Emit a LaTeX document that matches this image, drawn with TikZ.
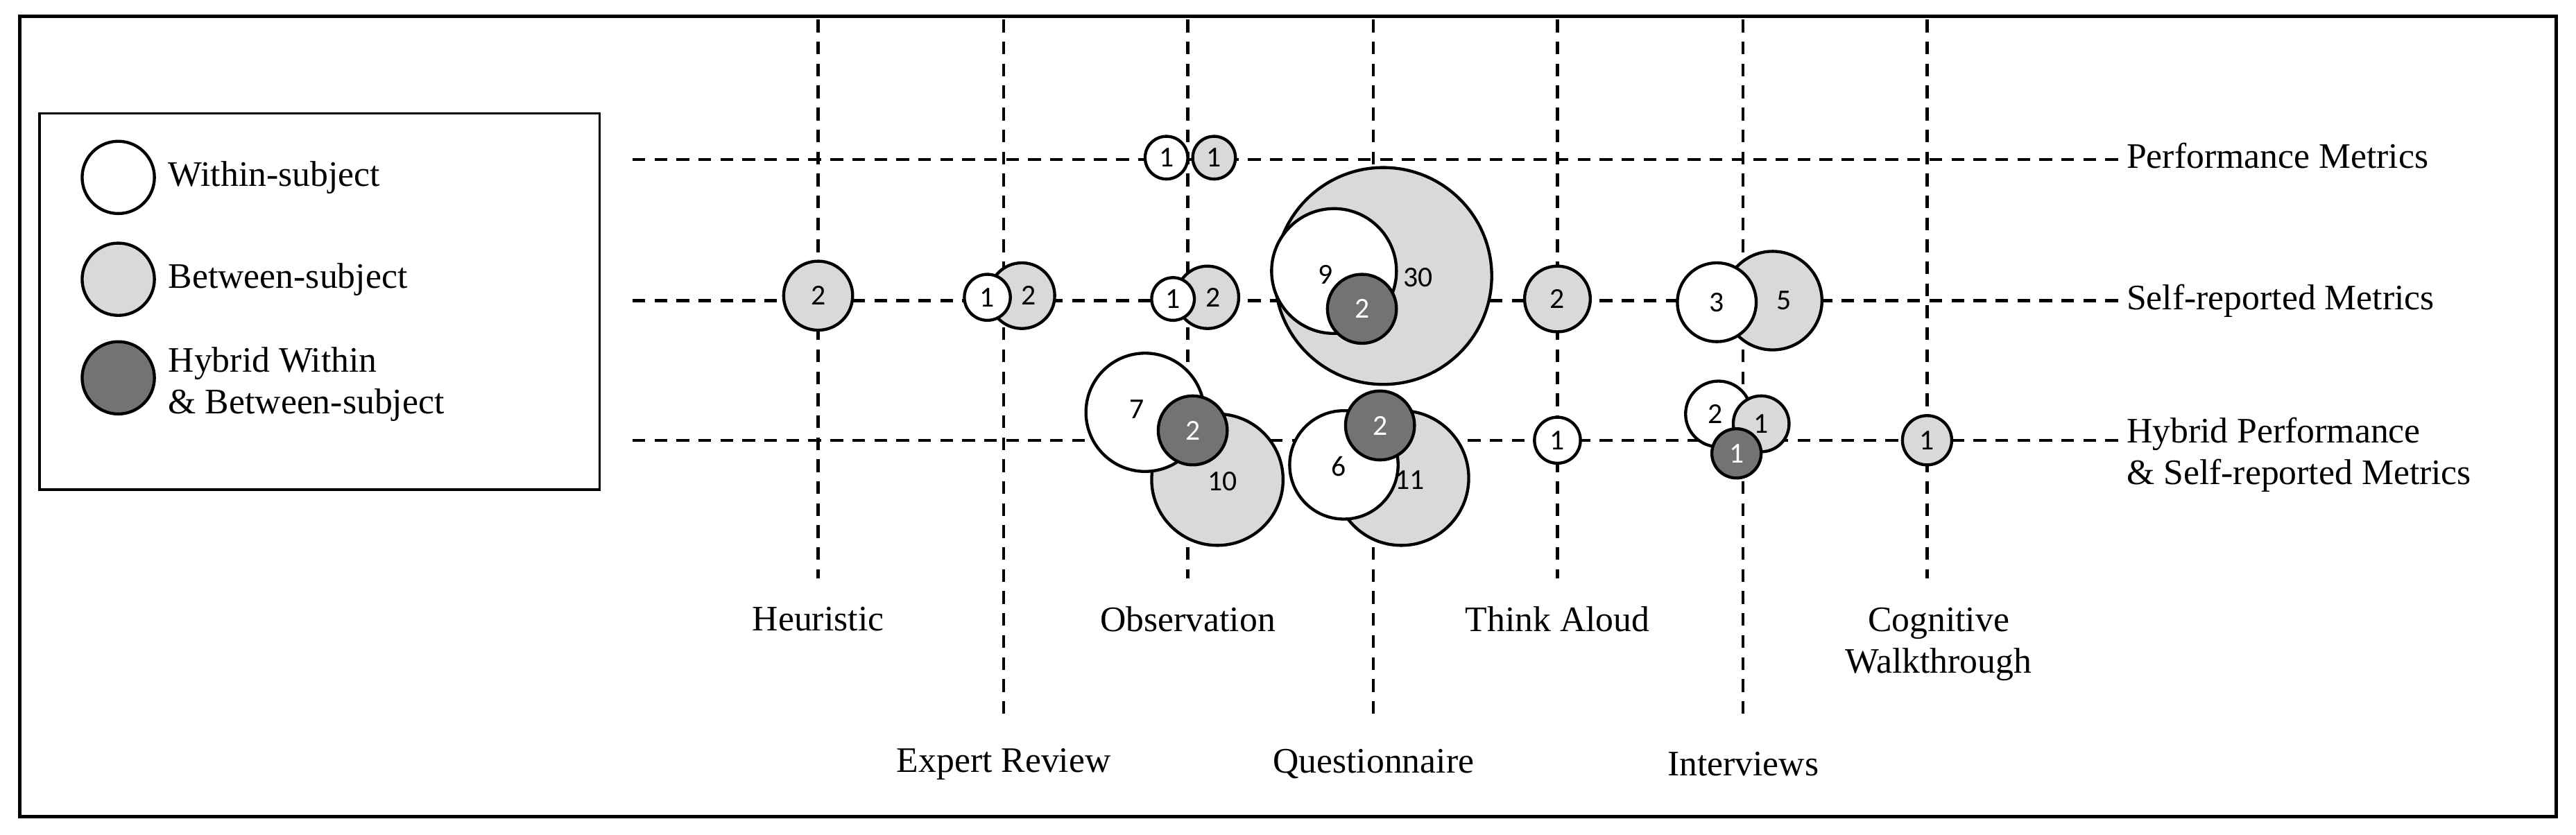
\documentclass[tikz,border=0pt]{standalone}
\usepackage{fontspec}
\setmainfont{Liberation Serif}
\newfontfamily\numf{Carlito}
\begin{document}
\begin{tikzpicture}[x=1.42pt,y=-1.42pt,
 grid/.style={line width=2.6pt,dash pattern=on 11pt off 8pt},
 bub/.style={circle,draw,line width=2.6pt,inner sep=0pt,minimum size=2*#1*1.42pt,font=\numf\fontsize{25}{25}\selectfont},
 wc/.style={bub=#1,fill=white},
 gc/.style={bub=#1,fill=black!15},
 dc/.style={bub=#1,fill=black!55,text=white},
 lab/.style={font=\fontsize{31}{36}\selectfont,align=center},
 rlab/.style={font=\fontsize{31}{36}\selectfont,anchor=west}]
\useasboundingbox (0,0) rectangle (1568,508);
\draw[line width=2.8pt] (12,10) rectangle (1556,497);
% legend
\draw[line width=2.2pt] (24,69) rectangle (365,298);
\node[wc=22] (l1) at (72,108) {};
\node[gc=22] (l2) at (72,170) {};
\node[dc=22] (l3) at (72,230) {};
\node[rlab] (t1) at (100,108) {Within-subject};
\node[rlab] (t2) at (100,170) {Between-subject};
\node[rlab,align=left] (t3) at (100,234) {Hybrid Within\\\& Between-subject};
% grid
\foreach \n/\x/\yb in {a/498/352,b/611/440,c/723/352,d/836/440,e/948/352,f/1061/440,g/1173/352}{
  \coordinate (v\n t) at (\x,12); \coordinate (v\n b) at (\x,\yb);
  \draw[grid] (v\n t) -- (v\n b);}
\foreach \n/\y in {p/97,s/183,h/268}{
  \coordinate (h\n l) at (385,\y); \coordinate (h\n r) at (1290,\y);
  \draw[grid] (h\n l) -- (h\n r);}
\node[rlab] (rp) at (1292,95) {Performance Metrics};
\node[rlab] (rs) at (1292,183) {Self-reported Metrics};
\node[rlab,align=left] (rh) at (1292,277) {Hybrid Performance\\\& Self-reported Metrics};
\node[lab] (xa) at (498,377) {Heuristic};
\node[lab] (xc) at (723,377) {Observation};
\node[lab] (xe) at (948,377) {Think Aloud};
\node[lab] (xg) at (1180,392) {Cognitive\\Walkthrough};
\node[lab] (xb) at (611,465) {Expert Review};
\node[lab] (xd) at (836,465) {Questionnaire};
\node[lab] (xf) at (1061,465) {Interviews};
% row 1
\node[wc=13] (p1) at (710,96) {1};
\node[gc=13] (p2) at (739,96) {1};
% row 2
\node[gc=21] (s1) at (498,180) {2};
\node[gc=20] (s2) at (622,180) {\hspace*{12pt}2};
\node[wc=14] (s3) at (601,181) {1};
\node[gc=19] (s4) at (735,181) {\hspace*{10pt}2};
\node[wc=13] (s5) at (714,182) {1};
\node[gc=66] (s6) at (842,168) {};
\node[wc=38] (s7) at (812,165) {};
\node[dc=21] (s8) at (829,188) {2};
\node[font=\numf\fontsize{25}{25}\selectfont] (n9) at (807,167) {9};
\node[font=\numf\fontsize{25}{25}\selectfont] (n30) at (863,169) {30};
\node[gc=20] (s9) at (948,182) {2};
\node[gc=30] (s10) at (1079,183) {\hspace*{20pt}5};
\node[wc=24] (s11) at (1045,184) {3};
% row 3
\node[gc=40] (h1) at (741,292) {};
\node[wc=36] (h2) at (697,251) {};
\node[dc=21] (h3) at (726,262) {2};
\node[font=\numf\fontsize{25}{25}\selectfont] (n7) at (692,249) {7};
\node[font=\numf\fontsize{25}{25}\selectfont] (n10) at (744,293) {10};
\node[gc=41] (h4) at (853,291) {};
\node[wc=33] (h5) at (818,283) {};
\node[dc=21] (h6) at (840,259) {2};
\node[font=\numf\fontsize{25}{25}\selectfont] (n6) at (815,284) {6};
\node[font=\numf\fontsize{25}{25}\selectfont] (n11) at (858,292) {11};
\node[wc=14] (h7) at (948,268) {1};
\node[wc=20] (h8) at (1046,252) {\hspace*{-6pt}2};
\node[gc=17] (h9) at (1072,258) {1};
\node[dc=15] (h10) at (1057,276) {1};
\node[gc=15] (h11) at (1173,268) {1};
\end{tikzpicture}
\end{document}
